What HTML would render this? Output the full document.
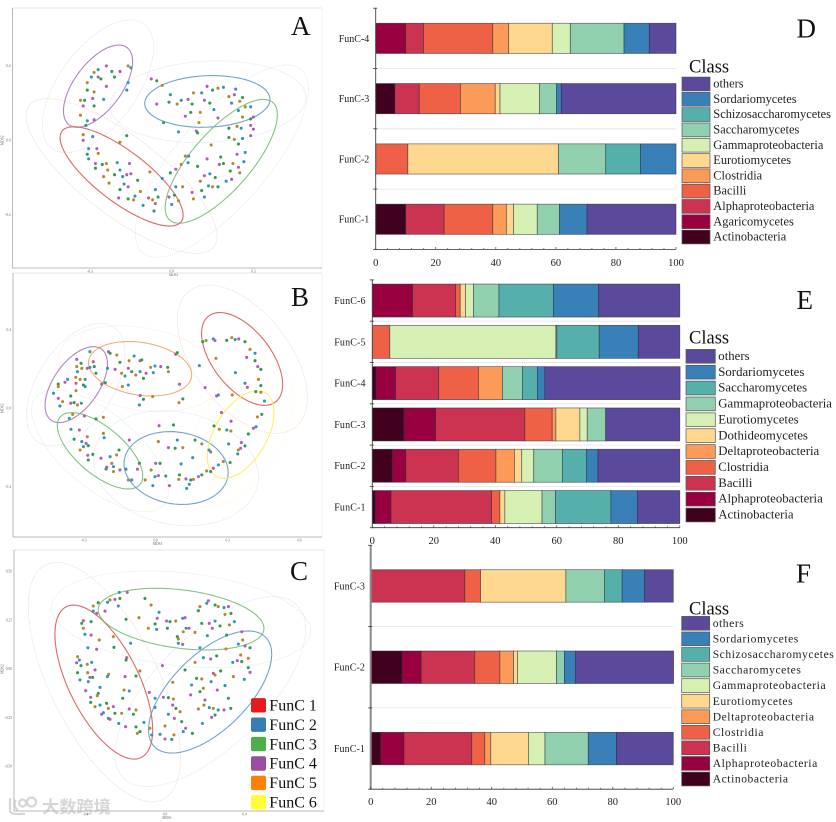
<!DOCTYPE html>
<html lang="en">
<head>
<meta charset="utf-8">
<title>MDS ordination and class composition panels</title>
<style>
html,body{margin:0;padding:0;background:#fff;width:836px;height:822px;overflow:hidden}
svg{display:block;position:absolute;left:0;top:0}
text{font-family:"Liberation Serif","Noto Serif CJK SC",serif}
.soft{filter:blur(.35px)}
</style>
</head>
<body>
<svg id="fig" width="836" height="822" viewBox="0 0 836 822" xmlns="http://www.w3.org/2000/svg">
  <g>
    <path d="M10 798 v13 q1 3 6 3 h9 M16 800 q-4 6 2 10 M27 802 a4.5 4.5 0 1 1 9 0 a4.5 4.5 0 1 1 -9 0 M19 803 a3.5 3.5 0 1 1 7 0 a3.5 3.5 0 1 1 -7 0" fill="none" stroke="#d6d6d6" stroke-width="2.2"/>
    <text x="42" y="813" font-size="17.2" font-weight="700" fill="#d6d6d6" style="font-family:'Liberation Sans','Noto Sans CJK SC',sans-serif">大数跨境</text>
  </g>
</svg>
<script>
/* ---------- scatter data: MDS1 / MDS2 scores ---------- */
const aRegionUpperLeft = [[-.27,.38],[-.24,.40],[-.22,.37],[-.16,.40],[-.15,.39],[-.19,.37],[-.21,.34],[-.285,.365],[-.295,.34],[-.27,.34],[-.26,.33],[-.31,.31],[-.16,.31],[-.24,.29],[-.31,.27],[-.285,.26],[-.165,.27],[-.29,.225],[-.32,.215],[-.335,.215],[-.25,.22],[-.325,.185],[-.285,.185],[-.335,.135],[-.31,.105],[-.285,.11],[-.315,.08]];
const aRegionLowerLeft = [[-.325,.03],[-.29,.02],[-.325,0],[-.165,.025],[-.19,-.01],[-.305,-.045],[-.275,-.045],[-.31,-.075],[-.27,-.07],[-.305,-.10],[-.28,-.125],[-.255,-.13],[-.24,-.125],[-.2,-.12],[-.155,-.125],[-.28,-.15],[-.235,-.16],[-.19,-.16],[-.15,-.18],[-.21,-.185],[-.25,-.195],[-.18,-.195],[-.165,-.185],[-.125,-.215],[-.23,-.23],[-.175,-.235],[-.16,-.25],[-.19,-.265],[-.115,-.275],[-.135,-.3],[-.195,-.31],[-.16,-.315],[-.14,-.32],[-.06,-.265],[-.085,-.31],[-.05,-.305],[-.07,-.32],[-.105,-.35],[-.06,-.34],[-.065,-.38],[-.08,-.17],[-.035,-.205]];
const aRegionUpperRight = [[-.075,.33],[-.055,.32],[-.035,.295],[-.005,.245],[-.055,.195],[-.01,.205],[.02,.195],[.035,.215],[.06,.22],[.075,.195],[.08,.255],[.11,.255],[.13,.29],[.15,.27],[.17,.28],[.19,.285],[.12,.215],[.14,.2],[.21,.235],[.235,.275],[.23,.245],[.26,.23],[.25,.21],[.22,.2],[.05,.13],[.07,.15],[.105,.15],[.155,.165],[.17,.12],[-.03,.095],[.1,.095],[.025,.045],[.09,.05],[.095,.04],[.27,.18],[.29,.18],[.3,.125],[.29,.115],[.26,.125],[.245,.16],[.29,.08]];
const aRegionLowerRight = [[.21,.065],[.24,.075],[.255,.065],[.3,.06],[.21,.015],[.23,.005],[.26,.01],[.29,.025],[.245,-.02],[.145,-.025],[.27,-.065],[.24,-.075],[.18,-.09],[.05,-.085],[.062,-.085],[.13,-.1],[.095,-.14],[.035,-.13],[.06,-.12],[.175,-.13],[.19,-.125],[.225,-.125],[.265,-.115],[.245,-.145],[.215,-.165],[.25,-.175],[.14,-.18],[.12,-.19],[.16,-.2],[.105,-.22],[.2,-.22],[.22,-.21],[.17,-.25],[.15,-.25],[.135,-.245],[.015,-.155],[-.005,-.175],[.04,-.25],[.015,-.25],[.075,-.28],[.11,-.27],[.08,-.315],[.12,-.305],[-.01,-.305],[.01,-.295],[.025,-.325],[0,-.345]];
const aEllipses = [[-.2705,.291,.127,.221,.6,'p',1],[-.271,.29,.204,.357,.58,'p',0],[.131,.209,.23,.139,.08,'b',1],[.133,.207,.36,.22,.1,'b',0],[.182,-.113,.206,.333,.75,'g',1],[.184,-.112,.318,.517,.75,'g',0],[-.184,-.194,.226,.267,-.78,'r',1],[-.184,-.192,.351,.416,-.78,'r',0]];
const aTicksX = [-.3,0,.3];
const aTickLabelsX = ['-0.3','0.0','0.3'];
const aTicksY = [.4,0,-.4];
const aTickLabelsY = ['0.4','0.0','-0.4'];

const bRegionPurple = [[-.274,.289],[-.329,.25],[-.311,.23],[-.329,.213],[-.274,.209],[-.26,.238],[-.256,.213],[-.308,.204],[-.326,.187],[-.285,.204],[-.249,.179],[-.333,.158],[-.367,.148],[-.378,.133],[-.406,.124],[-.315,.148],[-.294,.148],[-.332,.128],[-.301,.119],[-.406,.111],[-.426,.077],[-.406,.051],[-.354,.063],[-.332,.09],[-.294,.111],[-.225,.123],[-.21,.131],[-.388,.034],[-.399,.012],[-.354,.026],[-.34,.029],[-.326,.017],[-.31,.026]];
const bRegionOrange = [[-.197,.289],[-.19,.281],[-.162,.272],[-.201,.204],[-.169,.199],[-.149,.235],[-.111,.243],[-.09,.267],[-.065,.243],[-.058,.247],[-.142,.179],[-.128,.165],[-.114,.204],[-.1,.187],[-.083,.17],[-.065,.187],[-.04,.179],[-.051,.153],[-.021,.209],[-.003,.216],[.021,.213],[.05,.209],[.053,.187],[-.01,.182],[.083,.276],[.09,.284],[-.139,.111],[-.114,.119],[-.065,.065],[-.051,.046],[-.013,.06],[-.068,.017],[.099,.123],[.113,.048],[.097,.029],[.182,.218],[.206,.106],[.196,.34],[.21,.346],[.24,.354],[.247,.346]];
const bRegionRed = [[.296,.347],[.317,.361],[.331,.351],[.346,.354],[.372,.34],[.393,.301],[.414,.281],[.379,.26],[.414,.243],[.251,.255],[.332,.182],[.425,.213],[.438,.199],[.428,.148],[.372,.128],[.382,.107],[.438,.116],[.319,.068],[.261,.068],[.254,.063]];
const bRegionYellow = [[.417,.085],[.438,.082],[.453,.037],[.274,-.022],[.243,-.09],[.265,-.107],[.296,-.111],[.314,-.066],[.442,-.031],[.424,-.044],[.418,-.094],[.407,-.102],[.386,-.131],[.313,-.116],[.304,-.182],[.357,-.175],[.372,-.192],[.344,-.213],[.342,-.233],[.354,-.204],[.31,-.277],[.282,-.272],[.261,-.289],[.24,-.306],[.229,-.323],[.212,-.32],[.222,-.213],[.229,-.223],[.164,-.162],[.192,-.182],[.154,-.252]];
const bRegionBlue = [[.014,-.089],[.074,-.085],[.011,-.17],[.09,-.162],[.053,-.201],[.081,-.204],[.113,-.201],[.106,-.284],[0,-.281],[.018,-.281],[-.019,-.315],[-.003,-.349],[.011,-.344],[.042,-.346],[-.044,-.366],[-.012,-.395],[.057,-.395],[.099,-.34],[.096,-.363],[.129,-.409],[.126,-.361],[.146,-.366],[.157,-.363],[.14,-.388],[.178,-.349],[.192,-.34]];
const bRegionGreen = [[-.346,-.031],[-.36,-.051],[-.297,-.039],[-.249,-.054],[-.218,-.046],[-.353,-.107],[-.318,-.111],[-.34,-.158],[-.285,-.145],[-.308,-.17],[-.29,-.179],[-.281,-.191],[-.315,-.213],[-.301,-.196],[-.283,-.24],[-.281,-.264],[-.218,-.128],[-.215,-.15],[-.11,-.162],[-.153,-.213],[-.163,-.238],[-.19,-.247],[-.228,-.255],[-.262,-.235],[-.183,-.281],[-.176,-.298],[-.204,-.301],[-.207,-.31],[-.176,-.323],[-.124,-.311],[-.076,-.311],[-.068,-.281],[-.114,-.366],[-.1,-.366],[-.149,-.315]];
const bEllipses = [[.36,.252,.169,.237,-.55,'r',1],[.361,.251,.271,.379,-.52,'r',0],[-.065,.202,.215,.139,-.22,'o',1],[-.065,.202,.34,.219,-.24,'o',0],[-.331,.121,.13,.194,.55,'p',1],[-.333,.121,.205,.313,.5,'p',0],[-.232,-.217,.178,.195,-.66,'g',1],[-.232,-.217,.285,.311,-.66,'g',0],[.085,-.305,.217,.186,-.12,'b',1],[.084,-.306,.344,.294,-.15,'b',0],[.354,-.134,.139,.224,.5,'y',1],[.35,-.134,.224,.364,.5,'y',0]];
const bTicksX = [-.3,0,.3,.6];
const bTickLabelsX = ['-0.3','0.0','0.3','0.6'];
const bTicksY = [.4,0,-.4];
const bTickLabelsY = ['0.4','0.0','-0.4'];

const cRegionTop = [[-.23,.393],[-.19,.393],[-.101,.362],[-.07,.328],[-.235,.323],[-.252,.357],[-.227,.362],[-.277,.354],[-.289,.342],[-.302,.297],[-.336,.34],[-.361,.323],[-.361,.297],[-.344,.285],[-.196,.255],[-.131,.263],[-.03,.291],[-.039,.26],[-.05,.231],[-.084,.209],[-.042,.203],[.008,.246],[.025,.243],[.054,.246],[.089,.26],[.101,.263],[.012,.209],[.092,.191],[.106,.209],[.121,.209],[.062,.166],[.067,.154],[.067,.132],[.089,.126],[.168,.299],[.176,.32],[.21,.337],[.218,.35],[.252,.328],[.268,.32],[.297,.315],[.319,.32],[.332,.285],[.302,.28],[.252,.246],[.223,.234],[.185,.234],[.151,.188],[.213,.171],[.238,.209],[.277,.221],[.324,.226],[.349,.243],[.386,.191],[.31,.174],[.391,.149],[.369,.128],[.403,.118],[.428,.109],[.307,.103],[.176,.109]];
const cRegionLeft = [[-.411,.248],[-.419,.234],[-.411,.209],[-.403,.178],[-.372,.174],[-.372,.243],[-.331,.149],[-.388,.109],[-.344,.101],[-.257,.111],[-.26,.166],[-.173,.132],[-.193,.058],[-.196,.046],[-.44,.063],[-.431,.046],[-.445,.032],[-.423,.017],[-.391,.024],[-.369,.034],[-.352,-.005],[-.44,-.019],[-.389,-.019],[-.428,-.056],[-.378,-.043],[-.364,-.043],[-.284,-.027],[-.29,-.039],[-.201,-.039],[-.146,-.036],[-.126,-.01],[-.386,-.065],[-.399,-.111],[-.336,-.125],[-.341,-.137],[-.327,-.094],[-.374,-.145],[-.374,-.171],[-.352,-.193],[-.327,-.185],[-.26,-.193],[-.294,-.176],[-.285,-.202],[-.31,-.224],[-.319,-.232],[-.252,-.227],[-.218,-.227],[-.285,-.253],[-.277,-.258],[-.213,-.15],[-.206,-.108],[-.18,-.113],[-.18,-.205],[-.159,-.232],[-.146,-.21],[-.233,-.279],[-.198,-.296],[-.146,-.297],[-.139,-.33],[-.106,-.274],[-.079,-.12],[-.126,-.321],[-.076,-.304],[-.067,-.338]];
const cRegionRight = [[-.013,.017],[.101,-.005],[.039,-.068],[-.05,-.15],[-.008,-.145],[.017,-.147],[.042,-.154],[-.05,-.197],[.039,-.185],[.055,-.202],[.076,-.219],[.017,-.232],[.047,-.253],[.084,-.27],[0,-.292],[-.025,-.335],[0,-.359],[.034,-.361],[.045,-.338],[.092,-.321],[.104,-.304],[.138,-.33],[.168,-.205],[.188,-.279],[.235,-.248],[.252,-.236],[.243,-.202],[.268,-.21],[.297,-.21],[.331,-.202],[.196,-.185],[.223,-.198],[.201,-.159],[.176,-.116],[.193,-.099],[.134,-.082],[.129,-.133],[.159,-.048],[.185,-.051],[.232,-.065],[.243,-.022],[.28,-.01],[.252,-.031],[.302,-.085],[.263,-.108],[.319,-.15],[.344,-.039],[.399,-.053],[.428,-.017],[.419,.007],[.381,.072],[.341,.034],[.364,.043],[.386,.038],[.419,.055],[.193,.058],[.23,.051],[.26,.067],[.151,.034]];
const cEllipses = [[-.308,-.067,.246,.395,-.62,'r',1],[-.305,-.067,.383,.614,-.63,'r',0],[.081,.256,.417,.158,-.3,'g',1],[.081,.255,.652,.248,-.25,'g',0],[.227,-.118,.31,.313,.62,'b',1],[.228,-.116,.48,.487,.66,'b',0]];
const cTicksX = [-.4,0,.4];
const cTickLabelsX = ['-0.4','0.0','0.4'];
const cTicksY = [.5,.25,0,-.25,-.5];
const cTickLabelsY = ['0.50','0.25','0.00','-0.25','-0.50'];

const funcLegendLabels = ['FunC 1','FunC 2','FunC 3','FunC 4','FunC 5','FunC 6'];

/* ---------- stacked bar data: percent per class, in class order ---------- */
const percentTicks = [0,20,40,60,80,100];

const dCategories = ['FunC-4','FunC-3','FunC-2','FunC-1'];
const dClasses = ['Actinobacteria','Agaricomycetes','Alphaproteobacteria','Bacilli','Clostridia','Eurotiomycetes','Gammaproteobacteria','Saccharomycetes','Schizosaccharomycetes','Sordariomycetes','others'];
const dFunC4 = [0,10,5.9,23.1,5.3,14.5,6,17.9,0,8.4,8.9];
const dFunC3 = [6.4,0,8.1,13.7,11.6,1.6,13.1,5.7,0,1.6,38.2];
const dFunC2 = [0,0,0,10.7,0,50.2,0,15.7,11.6,11.8,0];
const dFunC1 = [10,0,12.8,16.2,4.5,2.4,7.9,7.4,0,9.2,29.6];

const eCategories = ['FunC-6','FunC-5','FunC-4','FunC-3','FunC-2','FunC-1'];
const eClasses = ['Actinobacteria','Alphaproteobacteria','Bacilli','Clostridia','Deltaproteobacteria','Dothideomycetes','Eurotiomycetes','Gammaproteobacteria','Saccharomycetes','Sordariomycetes','others'];
const eFunC6 = [0,13.1,14,1.5,0,1.7,2.6,8.3,17.7,14.7,26.4];
const eFunC5 = [0,0,0,5.7,0,0,54,.3,13.8,12.7,13.5];
const eFunC4 = [1.2,6.4,14,12.9,7.8,0,0,6.5,4.9,2.4,44];
const eFunC3 = [10.3,10.3,29,8.9,1.2,7.8,2.4,6,0,0,24.1];
const eFunC2 = [6.5,4.4,17.1,12.2,6,2.4,3.9,9.3,7.9,3.7,26.6];
const eFunC1 = [1,5.1,32.7,2.7,0,1.6,12.1,4.4,18,8.6,13.8];

const fCategories = ['FunC-3','FunC-2','FunC-1'];
const fClasses = ['Actinobacteria','Alphaproteobacteria','Bacilli','Clostridia','Deltaproteobacteria','Eurotiomycetes','Gammaproteobacteria','Saccharomycetes','Schizosaccharomycetes','Sordariomycetes','others'];
const fFunC3 = [0,0,31.1,5.2,0,28.2,0,12.8,5.8,7.4,9.5];
const fFunC2 = [10.4,6.3,17.7,8.3,4.5,1.3,12.9,2.6,0,3.7,32.4];
const fFunC1 = [3.3,7.7,22.4,4.3,2,12.4,5.5,14.3,0,9.3,18.8];

/* ---------- styling ---------- */
const palette = ['#42001f','#98003f','#cc3350','#ee6146','#fc9a59','#fed88e','#d6efb3','#90d0ae','#55afaa','#3980b8','#5b4a9b'];
const ellipseColors = {r:'#d9605f',b:'#6a9ec8',g:'#7cc07a',p:'#ae7dbb',o:'#f5a868',y:'#fff05e'};
const pointColors = ['#2f97b5','#b35cb5','#2f9a55','#b5882e'];
const funcSwatchColors = ['#e41a1c','#377eb8','#4daf4a','#984ea3','#ff7f00','#ffff33'];

const svg = document.getElementById('fig');
const NS = 'http://www.w3.org/2000/svg';
function el(tag, attrs, parent) {
  const n = document.createElementNS(NS, tag);
  for (const k in attrs) n.setAttribute(k, attrs[k]);
  parent.appendChild(n);
  return n;
}
function slug(s) { return String(s).toLowerCase().replace(/[^a-z0-9]+/g, '-'); }

function ellipsePath(e, sx, sy) {
  const [cx, cy, hw, hh, rho] = e;
  const q = Math.sqrt(1 - rho * rho);
  let d = '';
  for (let i = 0; i <= 90; i++) {
    const t = i / 90 * 2 * Math.PI;
    const x = cx + hw * Math.cos(t);
    const y = cy + hh * (rho * Math.cos(t) + q * Math.sin(t));
    d += (i ? 'L' : 'M') + sx(x).toFixed(2) + ' ' + sy(y).toFixed(2);
  }
  return d + 'Z';
}

function drawScatter(p) {
  const g = el('g', {}, svg);
  
  
  const sx = v => p.x0 + v * p.kx;
  const sy = v => p.y0 - v * p.ky;

  const top = el('line', {x1:p.left,x2:p.right,y1:p.top,y2:p.top,stroke:'#e4e4e4','stroke-width':1}, g);
  
  
  const rightEdge = el('line', {x1:p.right,x2:p.right,y1:p.top,y2:p.bottom,stroke:'#f0f0f0','stroke-width':1}, g);
  
  
  const yAxis = el('line', {x1:p.left,x2:p.left,y1:p.top,y2:p.bottom,stroke:'#b8b8b8','stroke-width':1}, g);
  
  
  const xAxis = el('line', {x1:p.left,x2:p.right,y1:p.bottom,y2:p.bottom,stroke:'#b8b8b8','stroke-width':1}, g);
  
  

  p.ticksX.forEach((v, i) => {
    const t = el('text', {x:sx(v),y:p.bottom+4.5,'font-size':3.6,'text-anchor':'middle',fill:'#666'}, g);
    
    
    t.textContent = p.labelsX[i];
  });
  p.ticksY.forEach((v, i) => {
    const t = el('text', {x:p.left-2,y:sy(v)+1.2,'font-size':3.6,'text-anchor':'end',fill:'#666'}, g);
    
    
    t.textContent = p.labelsY[i];
  });
  const xt = el('text', {x:sx(0)+2,y:p.bottom+8,'font-size':3.6,'text-anchor':'middle',fill:'#666'}, g);
  
  
  xt.textContent = 'MDS1';
  const yt = el('text', {x:0,y:0,'font-size':3.6,'text-anchor':'middle',fill:'#666',transform:'translate(3.5,'+sy(0)+') rotate(-90)'}, g);
  
  
  yt.textContent = 'MDS2';

  const marks = el('g', {class:'soft'}, g);
  
  
  p.ellipses.forEach(e => {
    const solid = e[6] === 1;
    const path = el('path', {d:ellipsePath(e, sx, sy),fill:'none',stroke:ellipseColors[e[5]],
      'stroke-width':solid?1.1:.8,'stroke-opacity':solid?.95:.3,'stroke-dasharray':solid?'none':'1 1'}, marks);
    
    
  });
  let idx = 0;
  p.regions.forEach(list => {
    list.forEach(pt => {
      const c = el('circle', {cx:sx(pt[0]),cy:sy(pt[1]),r:1.55,fill:pointColors[idx % 4]}, marks);
      
      
      idx++;
    });
  });
  const letter = el('text', {x:p.letterX,y:p.letterY,'font-size':27,fill:'#111'}, g);
  
  
  letter.textContent = p.id;
}

function drawBars(p) {
  const g = el('g', {}, svg);
  
  
  const sx = v => p.x0 + v * (p.x100 - p.x0) / 100;
  const band = i => p.axisTop + i * p.step;

  p.categories.forEach((name, i) => {
    if (i > 0) {
      const d = el('line', {x1:p.x0,x2:p.x100,y1:band(i),y2:band(i),stroke:'#c8c8c8','stroke-width':.8,'stroke-dasharray':'1 1'}, g);
      
      
    }
    const values = p.rows[i];
    const top = band(i) + (p.step - p.barH) / 2;
    let cum = 0;
    const row = el('g', {}, g);
    
    
    values.forEach((v, k) => {
      if (v <= 0) return;
      const r = el('rect', {x:sx(cum),y:top,width:sx(cum + v) - sx(cum),height:p.barH,fill:palette[k],stroke:'#2c2c3a','stroke-width':.7,'stroke-opacity':.7}, row);
      
      
      cum += v;
    });
    const lab = el('text', {x:p.catX,y:top + p.barH / 2 + 3.4,'font-size':10,'text-anchor':'end',fill:'#222','letter-spacing':p.catSpacing}, g);
    
    
    lab.textContent = name;
  });

  const bottomY = band(p.categories.length);
  const ya = el('line', {x1:p.x0,x2:p.x0,y1:p.axisTop,y2:bottomY,stroke:p.yAxisColor,'stroke-width':p.yAxisWidth}, g);
  
  
  const xa = el('line', {x1:p.x0,x2:p.x100,y1:bottomY,y2:bottomY,stroke:'#333','stroke-width':.8}, g);
  
  
  for (let i = 0; i <= p.categories.length; i++) {
    const t = el('line', {x1:p.x0-2.5,x2:p.x0+1.5,y1:band(i),y2:band(i),stroke:'#444','stroke-width':.9}, g);
    
    
  }
  for (let v = 0; v <= 100; v += 4) {
    const major = v % 20 === 0;
    const t = el('line', {x1:sx(v),x2:sx(v),y1:bottomY,y2:bottomY - (major ? 2.4 : 1.4),stroke:'#444','stroke-width':.7}, g);
    
    
  }
  percentTicks.forEach(v => {
    const t = el('text', {x:sx(v),y:p.tickY,'font-size':10.5,'text-anchor':'middle',fill:'#222'}, g);
    
    
    t.textContent = v;
  });

  const title = el('text', {x:p.legendTitleX,y:p.legendTitleY,'font-size':18.5,fill:'#111'}, g);
  
  
  title.textContent = 'Class';
  for (let k = p.classes.length - 1, row = 0; k >= 0; k--, row++) {
    const cy = p.legendY + row * p.legendStep;
    const item = el('g', {}, g);
    
    
    const sw = el('rect', {x:p.swatchX,y:cy - 6.9,width:p.swatchW,height:13.8,fill:palette[k],stroke:'#555','stroke-width':.7}, item);
    
    
    const tx = el('text', {x:p.legendTextX,y:cy + 3.6,'font-size':p.legendFont,fill:'#222','letter-spacing':p.legendSpacing}, item);
    
    
    tx.textContent = p.classes[k];
  }
  const letter = el('text', {x:p.letterX,y:p.letterY,'font-size':27,fill:'#111'}, g);
  
  
  letter.textContent = p.id;
}

drawScatter({id:'A',x0:171.7,kx:272.3,y0:140.3,ky:186,left:12.5,right:322,top:8,bottom:268,
  ticksX:aTicksX,labelsX:aTickLabelsX,ticksY:aTicksY,labelsY:aTickLabelsY,
  ellipses:aEllipses,regions:[aRegionUpperLeft,aRegionLowerLeft,aRegionUpperRight,aRegionLowerRight],letterX:291,letterY:35});
drawScatter({id:'B',x0:155.7,kx:240,y0:408.3,ky:195.8,left:13,right:322,top:273,bottom:537,
  ticksX:bTicksX,labelsX:bTickLabelsX,ticksY:bTicksY,labelsY:bTickLabelsY,
  ellipses:bEllipses,regions:[bRegionPurple,bRegionOrange,bRegionRed,bRegionYellow,bRegionBlue,bRegionGreen],letterX:291,letterY:306});
drawScatter({id:'C',x0:165,kx:198.7,y0:669,ky:195,left:14,right:324,top:550,bottom:811,
  ticksX:cTicksX,labelsX:cTickLabelsX,ticksY:cTicksY,labelsY:cTickLabelsY,
  ellipses:cEllipses,regions:[cRegionTop,cRegionLeft,cRegionRight],letterX:290,letterY:580});

const funcLegend = el('g', {}, svg);


funcLegendLabels.forEach((name, i) => {
  const cy = 705.3 + i * 19.4;
  const sw = el('rect', {x:251,y:cy - 7.2,width:15,height:14.4,rx:2,fill:funcSwatchColors[i]}, funcLegend);
  
  
  const t = el('text', {x:269.3,y:cy + 5.2,'font-size':16,fill:'#111'}, funcLegend);
  
  
  t.textContent = name;
});

drawBars({id:'D',categories:dCategories,classes:dClasses,rows:[dFunC4,dFunC3,dFunC2,dFunC1],
  x0:375.7,x100:676,axisTop:8.2,step:60.3,barH:30.2,catX:369.3,catSpacing:0,tickY:266,yAxisColor:'#444',yAxisWidth:.9,
  legendTitleX:689,legendTitleY:72.7,legendY:84,legendStep:15.3,swatchX:682,swatchW:28,legendTextX:713.3,legendFont:12.4,legendSpacing:0,letterX:796.5,letterY:37.7});
drawBars({id:'E',categories:eCategories,classes:eClasses,rows:[eFunC6,eFunC5,eFunC4,eFunC3,eFunC2,eFunC1],
  x0:372.3,x100:679.8,axisTop:279.9,step:41.3,barH:33,catX:365.7,catSpacing:.15,tickY:544,yAxisColor:'#444',yAxisWidth:.9,
  legendTitleX:689,legendTitleY:343.5,legendY:356.3,legendStep:15.87,swatchX:686,swatchW:29.3,legendTextX:718.3,legendFont:12.8,legendSpacing:0,letterX:796.5,letterY:309});
drawBars({id:'F',categories:fCategories,classes:fClasses,rows:[fFunC3,fFunC2,fFunC1],
  x0:370.7,x100:673.3,axisTop:545.3,step:81.3,barH:32.5,catX:365,catSpacing:.1,tickY:805,yAxisColor:'#8a8a8a',yAxisWidth:2,
  legendTitleX:689,legendTitleY:614.3,legendY:623.3,legendStep:15.57,swatchX:681.7,swatchW:28,legendTextX:712.7,legendFont:11.6,legendSpacing:.55,letterX:796,letterY:582.7});
</script>
</body>
</html>
